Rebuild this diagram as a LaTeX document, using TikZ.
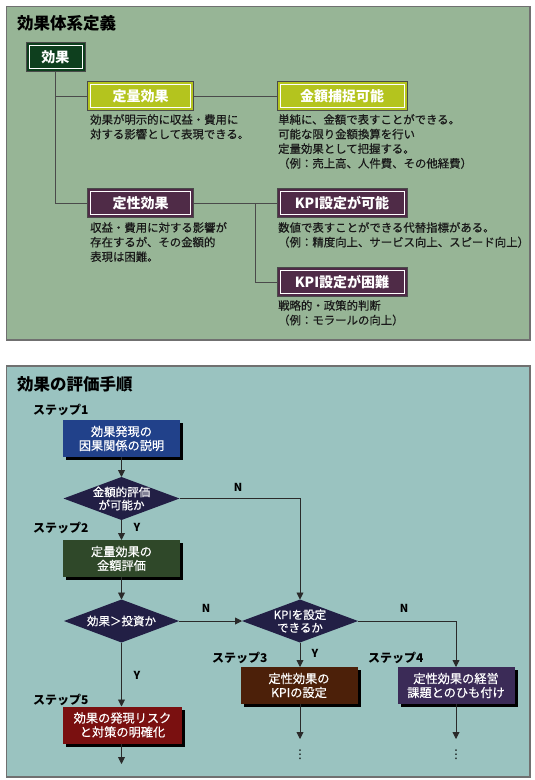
\documentclass[tikz,border=0pt]{standalone}
\usepackage{fontspec}
\setmainfont{Noto Sans CJK JP}
\newfontfamily\medfont{Noto Sans CJK JP}[FakeBold=0.5]
\newfontfamily\dvfont{DejaVu Sans}
\usetikzlibrary{arrows.meta,shapes.geometric,shadows}
\definecolor{panelA}{HTML}{97B596}
\definecolor{panelB}{HTML}{9AC3C0}
\definecolor{panelEdge}{HTML}{707070}
\definecolor{cKouka}{HTML}{0E3F1E}
\definecolor{cYel}{HTML}{B4C41E}
\definecolor{cPlum}{HTML}{4F2B47}
\definecolor{cBlue}{HTML}{21418A}
\definecolor{cNavy}{HTML}{221F45}
\definecolor{cOlive}{HTML}{2F4829}
\definecolor{cBrown}{HTML}{4C2009}
\definecolor{cPurp}{HTML}{3B2B57}
\definecolor{cRed}{HTML}{7A1010}
\definecolor{lineA}{HTML}{4A4A4A}
\definecolor{lineB}{HTML}{2A2A2A}
\begin{document}
\begin{tikzpicture}[x=1pt,y=-1pt,
  paneltitle/.style={anchor=west,inner sep=0,font=\bfseries\fontsize{16.5}{18}\selectfont,text=black},
  lbox/.style={rectangle,minimum height=29,inner sep=0,outer sep=0,draw=lineA,line width=0.8,
    text=white,font=\bfseries\fontsize{14}{16}\selectfont},
  desc/.style={anchor=north west,inner sep=0,align=left,text=black!90,
    font=\medfont\fontsize{11.4}{14.6}\selectfont},
  connA/.style={draw=lineA,line width=0.9},
  stp/.style={anchor=west,inner sep=0,font=\bfseries\fontsize{12}{14}\selectfont,text=black},
  fbox/.style={rectangle,minimum width=117,minimum height=37,inner sep=0,outer sep=0,
    text=white,align=center,font=\medfont\fontsize{12.2}{14}\selectfont,
    drop shadow={shadow xshift=3pt,shadow yshift=-3pt,fill=black,opacity=1}},
  dia/.style={diamond,fill=cNavy,minimum width=116,minimum height=43,inner sep=0,outer sep=0},
  qtext/.style={inner sep=0,text=white,align=center,font=\medfont\fontsize{11.5}{13}\selectfont},
  arr/.style={draw=lineB,line width=0.9,-{Triangle[length=7pt,width=7pt]}},
  yn/.style={inner sep=0,font=\bfseries\fontsize{11}{12}\selectfont,text=black},
  dots/.style={inner sep=0,font=\dvfont\fontsize{12}{12}\selectfont,text=black}
]
\useasboundingbox (0,0) rectangle (535,780);
\fill[white] (0,0) rectangle (535,780);
% panels
\draw[fill=panelA,draw=panelEdge,line width=1.5] (6.5,6.5) rectangle (530,340);
\draw[fill=panelB,draw=panelEdge,line width=1.5] (6.5,366) rectangle (530,777);
\node[paneltitle] (t1) at (17,23) {効果体系定義};
\node[paneltitle] (t2) at (17,384) {効果の評価手順};

% ---- panel 1 ----
\node[lbox,fill=cKouka,minimum width=59] (kk) at (55.5,57) {効果};
\node[lbox,fill=cYel,minimum width=106] (tr) at (140.5,96) {定量効果};
\node[lbox,fill=cYel,minimum width=130] (kg) at (342,96) {金額捕捉可能};
\node[lbox,fill=cPlum,minimum width=106] (ts) at (140.5,203) {定性効果};
\node[lbox,fill=cPlum,minimum width=130] (kp1) at (342,203) {KPI設定が可能};
\node[lbox,fill=cPlum,minimum width=130] (kp2) at (342,282) {KPI設定が困難};
\foreach \n in {kk,tr,kg,ts,kp1,kp2}{
  \draw[white,line width=0.7] ([shift={(3pt,-3pt)}]\n.north west) rectangle ([shift={(-3pt,3pt)}]\n.south east);
}
\coordinate (brA) at (kk.south |- tr.west);
\coordinate (brB) at (255,203);
\draw[connA] (kk.south) |- (ts.west);
\draw[connA] (brA) -- (tr.west);
\draw[connA] (tr) -- (kg);
\draw[connA] (ts) -- (kp1);
\draw[connA] (brB) |- (kp2.west);

\node[desc] (d1) at (90,114) {効果が明示的に収益・費用に\\対する影響として表現できる。};
\node[desc] (d2) at (278,114) {単純に、金額で表すことができる。\\可能な限り金額換算を行い\\定量効果として把握する。\\（例：売上高、人件費、その他経費）};
\node[desc] (d3) at (90,222) {収益・費用に対する影響が\\存在するが、その金額的\\表現は困難。};
\node[desc] (d4) at (278,222) {数値で表すことができる代替指標がある。\\（例：精度向上、サービス向上、スピード向上）};
\node[desc] (d5) at (278,300) {戦略的・政策的判断\\（例：モラールの向上）};

% ---- panel 2 ----
\node[stp] (s1) at (33,410) {ステップ1};
\node[stp] (s2) at (33,528) {ステップ2};
\node[stp] (s5) at (33,700) {ステップ5};
\node[stp] (s3) at (212,658) {ステップ3};
\node[stp] (s4) at (368,658) {ステップ4};

\node[fbox,fill=cBlue] (b1) at (121.5,438.5) {効果発現の\\因果関係の説明};
\node[fbox,fill=cOlive] (b2) at (121.5,558.5) {定量効果の\\金額評価};
\node[fbox,fill=cRed,minimum width=119] (b5) at (122.5,725) {効果の発現リスク\\と対策の明確化};
\node[fbox,fill=cBrown] (b3) at (299,685.5) {定性効果の\\KPIの設定};
\node[fbox,fill=cPurp] (b4) at (456,685.5) {定性効果の経営\\課題とのひも付け};

\node[dia] (q1) at (121.5,498.5) {};
\node[qtext] (q1t) at (q1) {金額的評価\\が可能か};
\node[dia,minimum width=115] (q3) at (121.5,621) {};
\node[qtext] (q3t) at (q3) {効果＞投資か};
\node[dia] (q2) at (300,621) {};
\node[qtext] (q2t) at (q2) {KPIを設定\\できるか};

\coordinate (e5) at (121.5,764);
\coordinate (e3) at (300,739);
\coordinate (e4) at (456,739);

\draw[arr] (b1.south) -- (q1.north);
\draw[arr] (q1.south) -- (b2.north);
\draw[arr] (q1.east) -| (q2.north);
\draw[arr] (b2.south) -- (q3.north);
\draw[arr] (q3.east) -- (q2.west);
\draw[arr] (q3.south) -- (b5.north -| q3.south);
\draw[arr] (q2.south) -- (b3.north -| q2.south);
\draw[arr] (q2.east) -| (b4.north);
\draw[arr] (b5.south -| e5) -- (e5);
\draw[arr] (b3.south -| e3) -- (e3);
\draw[arr] (b4.south) -- (e4);

\node[yn] (y1) at (137,527) {Y};
\node[yn] (n1) at (238,487) {N};
\node[yn] (n2) at (206,608) {N};
\node[yn] (y3) at (137,675) {Y};
\node[yn] (y2) at (315,653) {Y};
\node[yn] (n3) at (404,608) {N};

\node[dots] (dt3) at (300,755) {⋮};
\node[dots] (dt4) at (456,755) {⋮};
\end{tikzpicture}
\end{document}
